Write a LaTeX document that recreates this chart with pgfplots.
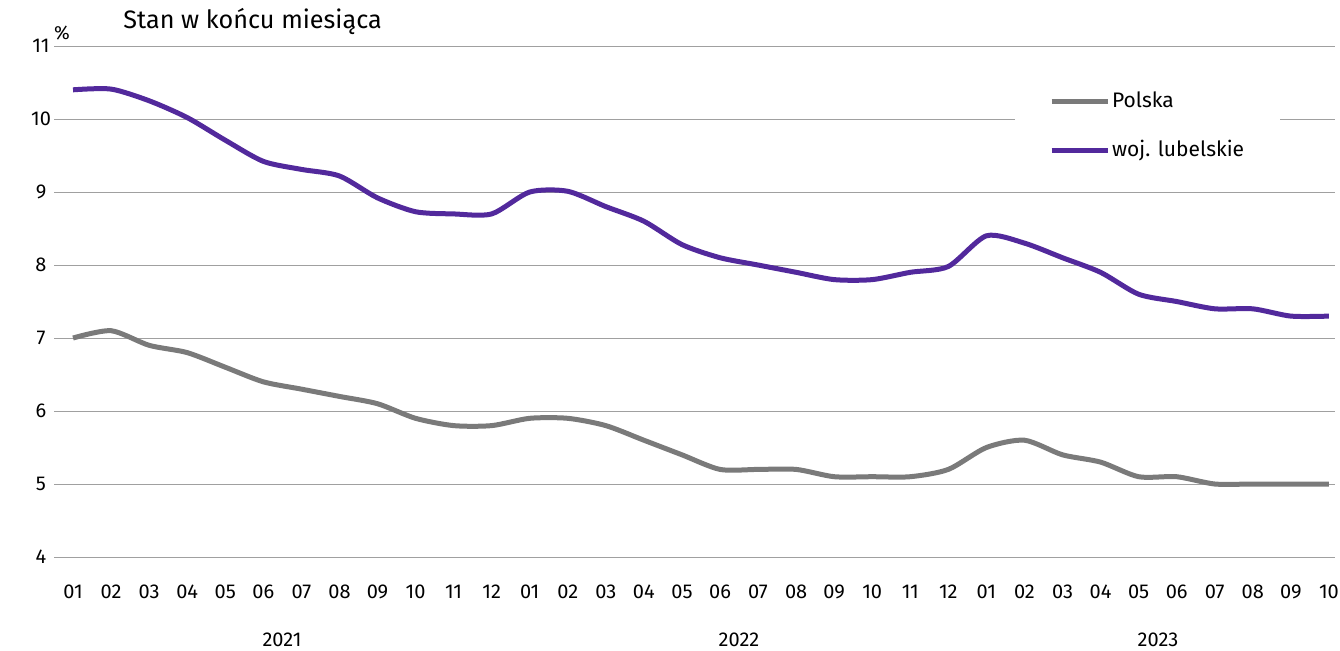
\documentclass[border=0pt]{standalone}
\usepackage{pgfplots}
\pgfplotsset{compat=1.18}
\usepackage{fontspec}
\setmainfont{Fira Sans}
\definecolor{pl}{HTML}{7A7A7A}
\definecolor{lub}{HTML}{52299C}
\definecolor{gridc}{HTML}{A0A0A0}
\pgfplotstableread{
x pl lub
0 7.0 10.40
1 7.1 10.41
2 6.9 10.25
3 6.8 10.02
4 6.6 9.71
5 6.4 9.42
6 6.3 9.31
7 6.2 9.22
8 6.1 8.92
9 5.9 8.73
10 5.8 8.70
11 5.8 8.70
12 5.9 9.00
13 5.9 9.01
14 5.8 8.80
15 5.6 8.60
16 5.4 8.28
17 5.2 8.10
18 5.2 8.00
19 5.2 7.90
20 5.1 7.80
21 5.1 7.80
22 5.1 7.90
23 5.2 7.98
24 5.5 8.40
25 5.6 8.30
26 5.4 8.10
27 5.3 7.90
28 5.1 7.60
29 5.1 7.50
30 5.0 7.40
31 5.0 7.40
32 5.0 7.30
33 5.0 7.30
}\data
\begin{document}
\begin{tikzpicture}
\useasboundingbox (0pt,0pt) rectangle (670pt,-325pt);
\begin{axis}[
  at={(27pt,-278.5pt)}, anchor=south west,
  scale only axis, width=640.5pt, height=255.5pt,
  xmin=-0.5, xmax=33.16, ymin=4, ymax=11,
  ytick={4,...,11},
  xtick={0,...,33},
  xticklabels={01,02,03,04,05,06,07,08,09,10,11,12,01,02,03,04,05,06,07,08,09,10,11,12,01,02,03,04,05,06,07,08,09,10},
  axis line style={draw=none},
  major tick length=0pt,
  ymajorgrids, grid style={gridc, line width=0.5pt},
  tick label style={font=\fontsize{10}{12}\selectfont, text=black},
  /pgf/number format/assume math mode=true,
  xticklabel style={anchor=center, yshift=-17.5pt},
  yticklabel style={anchor=center, xshift=-6.5pt},
  clip=false,
  legend style={at={(0.750,0.935)}, anchor=north west, draw=none, fill=white,
    font=\fontsize{10.5}{12}\selectfont, row sep=11pt, inner xsep=17pt, inner ysep=4pt,
    nodes={inner xsep=1pt}},
  legend cell align=left,
  legend image code/.code={\draw[#1, line width=2.5pt] (0pt,0pt) -- (28pt,0pt);},
]
\addplot[pl, line width=2.5pt, smooth, tension=0.45] table[x=x,y=pl]{\data};
\addlegendentry{Polska}
\addplot[lub, line width=2.5pt, smooth, tension=0.45] table[x=x,y=lub]{\data};
\addlegendentry{woj. lubelskie}
\end{axis}
\node[anchor=west, font=\fontsize{12.6}{14}\selectfont, inner xsep=0pt] at (61.5pt,-10.5pt) {Stan w końcu miesiąca};
\node[anchor=center, font=\fontsize{9.5}{11}\selectfont] at (31pt,-16.5pt) {\%};
\node[anchor=center, font=\fontsize{10}{12}\selectfont] at (141pt,-320pt) {2021};
\node[anchor=center, font=\fontsize{10}{12}\selectfont] at (369.5pt,-320pt) {2022};
\node[anchor=center, font=\fontsize{10}{12}\selectfont] at (579pt,-320pt) {2023};
\end{tikzpicture}
\end{document}
